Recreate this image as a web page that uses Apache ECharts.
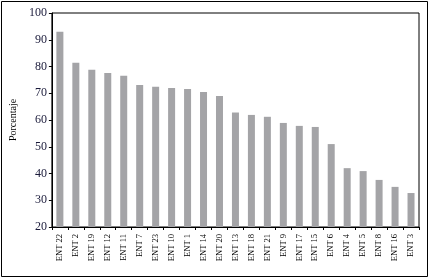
<!DOCTYPE html>
<html>
<head>
<meta charset="utf-8">
<script src="https://cdn.jsdelivr.net/npm/echarts@6/dist/echarts.min.js"></script>
<style>html,body{margin:0;padding:0;background:#fff;}#c{width:430px;height:280px;}</style>
</head>
<body>
<div id="c"></div>
<script>
const categories = ["ENT 22","ENT 2","ENT 19","ENT 12","ENT 11","ENT 7","ENT 23","ENT 10","ENT 1","ENT 14","ENT 20","ENT 13","ENT 18","ENT 21","ENT 9","ENT 17","ENT 15","ENT 6","ENT 4","ENT 5","ENT 8","ENT 16","ENT 3"];
const values = [93.0,81.4,78.8,77.6,76.5,73.1,72.4,72.0,71.6,70.5,69.0,62.8,61.9,61.2,58.9,57.8,57.4,51.0,42.0,40.9,37.6,35.0,32.7];
const yTitle = "Porcentaje";

const serif = "'Liberation Serif', 'DejaVu Serif', serif";
const chart = echarts.init(document.getElementById('c'), null, {renderer: 'canvas'});
chart.setOption({
  animation: false,
  backgroundColor: '#fff',
  graphic: [{
    type: 'rect', silent: true,
    shape: {x: 1.5, y: 1.5, width: 426, height: 275},
    style: {fill: 'none', stroke: '#000', lineWidth: 1}
  }],
  grid: {left: 43, top: 13, width: 376, height: 214, show: true, borderColor: '#000', borderWidth: 1, backgroundColor: 'transparent'},
  xAxis: {
    type: 'category', data: categories,
    axisLine: {lineStyle: {color: '#000', width: 1}},
    axisTick: {show: true, length: 3, lineStyle: {color: '#000'}},
    axisLabel: {rotate: 90, fontFamily: serif, fontSize: 8.5, color: '#000', margin: 7, interval: 0}
  },
  yAxis: {
    type: 'value', min: 20, max: 100, interval: 10,
    name: yTitle, nameLocation: 'middle', nameGap: 22, nameRotate: 90,
    nameTextStyle: {fontFamily: serif, fontSize: 10, color: '#000'},
    axisLine: {show: true, lineStyle: {color: '#000', width: 1}},
    axisTick: {show: true, length: 3, lineStyle: {color: '#000'}},
    axisLabel: {fontFamily: serif, fontSize: 12, color: '#1a1a3a', margin: 5},
    splitLine: {show: false}
  },
  series: [{
    type: 'bar', data: values, barWidth: 7,
    itemStyle: {color: '#a4a4a7'}
  }]
});
</script>
</body>
</html>
